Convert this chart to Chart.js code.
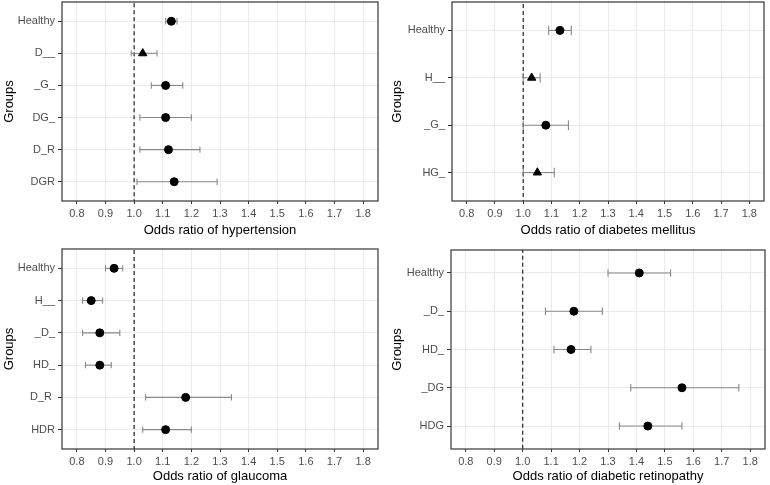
<!DOCTYPE html>
<html><head><meta charset="utf-8">
<script src="https://cdn.jsdelivr.net/npm/chart.js@4"></script>
<style>
html,body{margin:0;padding:0;background:#fff;}
#wrap{position:relative;width:770px;height:485px;overflow:hidden;}
canvas{position:absolute;}
</style></head><body>
<div id="wrap">
<canvas id="c1" width="385" height="240" style="left:0;top:0"></canvas>
<canvas id="c2" width="385" height="240" style="left:385px;top:0"></canvas>
<canvas id="c3" width="385" height="245" style="left:0;top:240px"></canvas>
<canvas id="c4" width="385" height="245" style="left:385px;top:240px"></canvas>
</div>
<script>
// ---- data ----
const xTicks = [0.8, 0.9, 1.0, 1.1, 1.2, 1.3, 1.4, 1.5, 1.6, 1.7, 1.8];
const xMin = 0.748, xMax = 1.852;
const refValue = 1.0;

const htnGroups = ['Healthy', 'D__', '_G_', 'DG_', 'D_R', 'DGR'];
const htnOR = [1.13, 1.03, 1.11, 1.11, 1.12, 1.14];
const htnLo = [1.11, 0.99, 1.06, 1.02, 1.02, 1.01];
const htnHi = [1.15, 1.08, 1.17, 1.20, 1.23, 1.29];
const htnShape = ['circle', 'triangle', 'circle', 'circle', 'circle', 'circle'];

const dmGroups = ['Healthy', 'H__', '_G_', 'HG_'];
const dmOR = [1.13, 1.03, 1.08, 1.05];
const dmLo = [1.09, 1.00, 1.00, 1.00];
const dmHi = [1.17, 1.06, 1.16, 1.11];
const dmShape = ['circle', 'triangle', 'circle', 'triangle'];

const glGroups = ['Healthy', 'H__', '_D_', 'HD_', 'D_R ', 'HDR'];
const glOR = [0.93, 0.85, 0.88, 0.88, 1.18, 1.11];
const glLo = [0.90, 0.82, 0.82, 0.83, 1.04, 1.03];
const glHi = [0.96, 0.89, 0.95, 0.92, 1.34, 1.20];
const glShape = ['circle', 'circle', 'circle', 'circle', 'circle', 'circle'];

const drGroups = ['Healthy', '_D_', 'HD_', '_DG', 'HDG'];
const drOR = [1.41, 1.18, 1.17, 1.56, 1.44];
const drLo = [1.30, 1.08, 1.11, 1.38, 1.34];
const drHi = [1.52, 1.28, 1.24, 1.76, 1.56];
const drShape = ['circle', 'circle', 'circle', 'circle', 'circle'];

// ---- drawing ----
Chart.defaults.font.family = "'Liberation Sans', Arial, sans-serif";
const errColor = '#888888';

const frame = {
  id: 'frame',
  afterDraw(chart) {
    const a = chart.chartArea, c = chart.ctx;
    c.save();
    c.strokeStyle = '#444';
    c.lineWidth = 1.3;
    c.strokeRect(a.left, a.top, a.right - a.left, a.bottom - a.top);
    c.restore();
  }
};

function capRadius(ctx) {
  const s = ctx.chart.scales.y;
  return Math.abs(s.getPixelForValue(1) - s.getPixelForValue(0)) * 0.1;
}

function zeroPad(s) { s.paddingLeft = 0; s.paddingRight = 0; s.paddingTop = 0; s.paddingBottom = 0; }

function panel(id, groups, or, lo, hi, shapes, title, g) {
  const n = groups.length;
  const datasets = [];
  datasets.push({
    data: groups.map((_, i) => ({ x: or[i], y: i })),
    pointStyle: shapes,
    pointRadius: shapes.map(s => s === 'triangle' ? 4.8 : 4),
    pointBackgroundColor: '#000', pointBorderColor: '#000', pointBorderWidth: 1,
    showLine: false
  });
  groups.forEach((_, i) => datasets.push({
    data: [{ x: lo[i], y: i }, { x: hi[i], y: i }],
    showLine: true, borderColor: errColor, borderWidth: 1.1,
    pointStyle: 'line', pointRotation: 90, pointRadius: capRadius,
    pointBorderColor: errColor, pointBorderWidth: 1.1
  }));
  datasets.push({
    data: [{ x: refValue, y: -1 }, { x: refValue, y: n }],
    showLine: true, borderColor: '#333', borderWidth: 1.3, borderDash: [4, 3],
    pointRadius: 0
  });

  new Chart(document.getElementById(id), {
    type: 'scatter',
    data: { datasets },
    plugins: [frame],
    options: {
      responsive: false, animation: false,
      layout: { autoPadding: false, padding: { left: 0, top: g.top, right: g.right, bottom: 0 } },
      plugins: { legend: { display: false }, tooltip: { enabled: false } },
      scales: {
        x: {
          type: 'linear', min: xMin, max: xMax,
          afterBuildTicks: s => { s.ticks = xTicks.map(v => ({ value: v })); },
          afterFit: s => { s.height = g.xh; zeroPad(s); },
          ticks: { callback: v => Number(v).toFixed(1), color: '#4d4d4d', font: { size: 11 }, padding: 3, maxRotation: 0, autoSkip: false },
          grid: { color: '#ebebeb', lineWidth: 1, tickColor: '#333', tickLength: 3, drawTicks: true },
          border: { display: false },
          title: { display: true, text: title, color: '#000', font: { size: 13 }, padding: { top: 0, bottom: g.tb } }
        },
        y: {
          type: 'linear', reverse: true, min: -0.6, max: n - 0.4,
          afterBuildTicks: s => { s.ticks = groups.map((_, i) => ({ value: i })); },
          afterFit: s => { s.width = g.yw; zeroPad(s); },
          ticks: { callback: v => groups[v], color: '#4d4d4d', font: { size: 11 }, padding: 3, autoSkip: false },
          grid: { color: '#ebebeb', lineWidth: 1, tickColor: '#333', tickLength: 4, drawTicks: true },
          border: { display: false },
          title: { display: true, text: 'Groups', color: '#000', font: { size: 13 }, padding: { top: g.tp, bottom: 0 } }
        }
      }
    }
  });
}

panel('c1', htnGroups, htnOR, htnLo, htnHi, htnShape, 'Odds ratio of hypertension',
  { top: 2, right: 7, yw: 62, xh: 39, tb: 2, tp: 2 });
panel('c2', dmGroups, dmOR, dmLo, dmHi, dmShape, 'Odds ratio of diabetes mellitus',
  { top: 2, right: 6, yw: 67, xh: 39, tb: 2, tp: 5 });
panel('c3', glGroups, glOR, glLo, glHi, glShape, 'Odds ratio of glaucoma',
  { top: 9, right: 7, yw: 62, xh: 36, tb: 0.5, tp: 1.5 });
panel('c4', drGroups, drOR, drLo, drHi, drShape, 'Odds ratio of diabetic retinopathy',
  { top: 10, right: 5, yw: 66, xh: 36, tb: 0.5, tp: 5 });
</script>
</body></html>
